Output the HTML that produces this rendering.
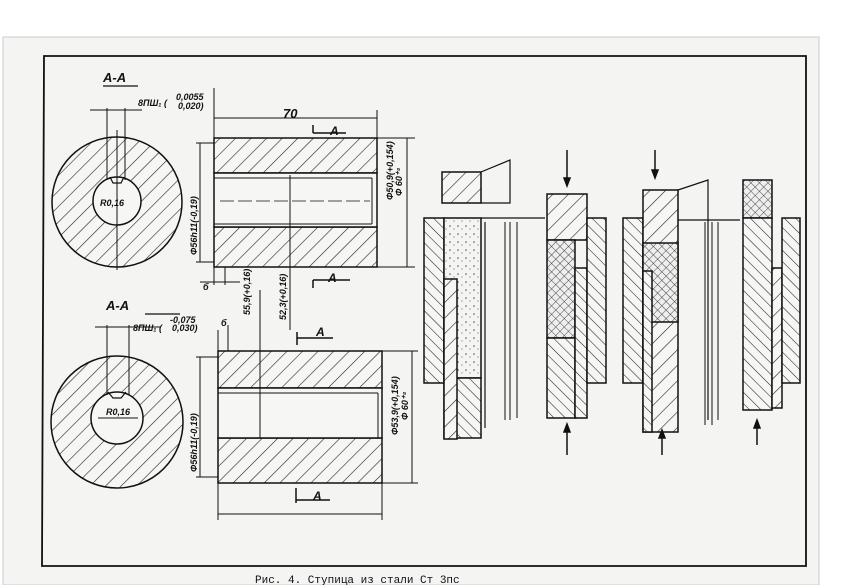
<!DOCTYPE html>
<html><head><meta charset="utf-8"><style>
html,body{margin:0;padding:0;background:#fff;}
svg{display:block;}
text{font-family:"Liberation Sans",sans-serif;font-style:italic;font-weight:bold;fill:#111;}
</style></head><body>
<svg width="848" height="585" viewBox="0 0 848 585" xmlns="http://www.w3.org/2000/svg">
<defs>
<pattern id="h" width="11" height="11" patternUnits="userSpaceOnUse" patternTransform="rotate(45)">
<rect width="11" height="11" fill="#f6f6f4"/><line x1="0" y1="0" x2="0" y2="11" stroke="#222" stroke-width="1.2"/></pattern>
<pattern id="h2" width="8" height="8" patternUnits="userSpaceOnUse" patternTransform="rotate(-45)">
<rect width="8" height="8" fill="#f6f6f4"/><line x1="0" y1="0" x2="0" y2="8" stroke="#222" stroke-width="1.1"/></pattern>
<pattern id="x" width="6" height="6" patternUnits="userSpaceOnUse" patternTransform="rotate(45)">
<rect width="6" height="6" fill="#eee"/><line x1="0" y1="0" x2="0" y2="6" stroke="#333" stroke-width="0.9"/><line x1="0" y1="0" x2="6" y2="0" stroke="#333" stroke-width="0.9"/></pattern>
<pattern id="d" width="8" height="8" patternUnits="userSpaceOnUse">
<rect width="8" height="8" fill="#f4f4f2"/><circle cx="2" cy="2" r="0.8" fill="#555"/><circle cx="6" cy="5" r="0.6" fill="#777"/></pattern>
</defs>
<rect x="3" y="37" width="816" height="548" fill="#f4f4f2" stroke="#ccc"/>
<g stroke="#111" fill="none" stroke-width="1.5">
<path d="M44 56 L806 56 L806 566 L42 566 Z" stroke-width="1.8"/>
<circle cx="117" cy="202" r="65" fill="url(#h)"/>
<circle cx="117" cy="201" r="24" fill="#f6f6f4"/>
<path d="M110 177 L113 183 L121 183 L124 177" stroke-width="1.2"/>
<line x1="107" y1="108" x2="107" y2="180" stroke-width="1"/><line x1="125" y1="108" x2="125" y2="180" stroke-width="1"/>
<line x1="90" y1="110" x2="142" y2="110" stroke-width="1"/>
<line x1="117" y1="130" x2="117" y2="270" stroke-width="1"/>
<rect x="214" y="138" width="163" height="35" fill="url(#h)"/>
<rect x="214" y="227" width="163" height="40" fill="url(#h)"/>
<rect x="214" y="173" width="163" height="54" fill="#f6f6f4"/>
<line x1="214" y1="178" x2="372" y2="178" stroke-width="1"/><line x1="214" y1="224" x2="372" y2="224" stroke-width="1"/>
<line x1="372" y1="178" x2="372" y2="224" stroke-width="1"/>
<line x1="220" y1="201" x2="370" y2="201" stroke-width="0.8" stroke-dasharray="14 4"/>
<line x1="214" y1="88" x2="214" y2="285" stroke-width="1"/><line x1="377" y1="110" x2="377" y2="138" stroke-width="1"/>
<line x1="214" y1="118" x2="377" y2="118" stroke-width="1"/>
<line x1="377" y1="138" x2="415" y2="138" stroke-width="1"/><line x1="377" y1="267" x2="415" y2="267" stroke-width="1"/>
<line x1="407" y1="138" x2="407" y2="267" stroke-width="1"/>
<line x1="200" y1="143" x2="200" y2="262" stroke-width="1"/>
<line x1="196" y1="143" x2="214" y2="143" stroke-width="1"/><line x1="196" y1="262" x2="214" y2="262" stroke-width="1"/>
<line x1="290" y1="175" x2="290" y2="330" stroke-width="1"/>
<path d="M313 125 L313 133 M313 133 L346 133 M313 280 L313 288 M313 280 L350 280" stroke-width="1.5"/>
<line x1="225" y1="267" x2="225" y2="285" stroke-width="1"/><line x1="200" y1="282" x2="240" y2="282" stroke-width="1"/>
<circle cx="117" cy="422" r="66" fill="url(#h)"/>
<circle cx="117" cy="418" r="26" fill="#f6f6f4"/>
<path d="M108 392 L113 398 L121 398 L126 392" stroke-width="1.2"/>
<line x1="107" y1="325" x2="107" y2="395" stroke-width="1"/><line x1="129" y1="325" x2="129" y2="395" stroke-width="1"/>
<line x1="95" y1="327" x2="160" y2="327" stroke-width="1"/>
<line x1="98" y1="418" x2="138" y2="418" stroke-width="1"/>
<rect x="218" y="351" width="164" height="37" fill="url(#h)"/>
<rect x="218" y="438" width="164" height="45" fill="url(#h)"/>
<rect x="218" y="388" width="164" height="50" fill="#f6f6f4"/>
<line x1="218" y1="393" x2="378" y2="393" stroke-width="1"/><line x1="378" y1="393" x2="378" y2="438" stroke-width="1"/>
<line x1="218" y1="330" x2="218" y2="520" stroke-width="1"/><line x1="382" y1="483" x2="382" y2="520" stroke-width="1"/>
<line x1="218" y1="514" x2="382" y2="514" stroke-width="1"/>
<line x1="382" y1="351" x2="418" y2="351" stroke-width="1"/><line x1="382" y1="483" x2="418" y2="483" stroke-width="1"/>
<line x1="412" y1="351" x2="412" y2="483" stroke-width="1"/>
<line x1="200" y1="357" x2="200" y2="477" stroke-width="1"/>
<line x1="196" y1="357" x2="218" y2="357" stroke-width="1"/><line x1="196" y1="477" x2="218" y2="477" stroke-width="1"/>
<line x1="228" y1="325" x2="228" y2="351" stroke-width="1"/>
<line x1="260" y1="290" x2="260" y2="438" stroke-width="1"/>
<path d="M297 332 L297 345 M297 338 L333 338 M296 488 L296 503 M296 500 L330 500" stroke-width="1.5"/>
<rect x="442" y="172" width="39" height="31" fill="url(#h)"/>
<path d="M481 172 L510 160 L510 203 L481 203" stroke-width="1.2"/>
<rect x="424" y="218" width="20" height="165" fill="url(#h2)"/>
<rect x="444" y="218" width="37" height="160" fill="url(#d)"/>
<rect x="444" y="378" width="37" height="60" fill="url(#h2)"/>
<rect x="444" y="279" width="13" height="160" fill="url(#h)"/>
<line x1="481" y1="218" x2="545" y2="218" stroke-width="1.2"/>
<line x1="485" y1="222" x2="485" y2="428" stroke-width="1.2"/><line x1="505" y1="222" x2="505" y2="420" stroke-width="1"/>
<line x1="510" y1="222" x2="510" y2="420" stroke-width="1"/><line x1="517" y1="222" x2="517" y2="418" stroke-width="1"/>
<rect x="547" y="194" width="40" height="46" fill="url(#h)"/>
<rect x="547" y="240" width="28" height="98" fill="url(#x)"/>
<rect x="547" y="338" width="28" height="80" fill="url(#h2)"/>
<rect x="575" y="268" width="12" height="150" fill="url(#h2)"/>
<rect x="587" y="218" width="19" height="165" fill="url(#h2)"/>
<rect x="623" y="218" width="20" height="165" fill="url(#h2)"/>
<rect x="643" y="190" width="35" height="242" fill="url(#h)"/>
<rect x="643" y="243" width="35" height="79" fill="url(#x)"/>
<rect x="643" y="271" width="9" height="161" fill="url(#h2)"/>
<path d="M678 190 L708 180 L708 420" stroke-width="1.2"/>
<line x1="678" y1="220" x2="740" y2="220" stroke-width="1.2"/>
<line x1="705" y1="222" x2="705" y2="425" stroke-width="1"/><line x1="712" y1="222" x2="712" y2="425" stroke-width="1"/><line x1="718" y1="222" x2="718" y2="420" stroke-width="1"/>
<rect x="743" y="180" width="29" height="38" fill="url(#x)"/>
<rect x="743" y="218" width="29" height="192" fill="url(#h2)"/>
<rect x="772" y="268" width="10" height="140" fill="url(#h)"/>
<rect x="782" y="218" width="18" height="165" fill="url(#h2)"/>
</g>
<g stroke="#111" stroke-width="1.5" fill="#111">
<line x1="567" y1="150" x2="567" y2="180"/><path d="M564 178 L567 186 L570 178 Z"/>
<line x1="567" y1="455" x2="567" y2="430"/><path d="M564 432 L567 424 L570 432 Z"/>
<line x1="655" y1="150" x2="655" y2="172"/><path d="M652 170 L655 178 L658 170 Z"/>
<line x1="662" y1="455" x2="662" y2="436"/><path d="M659 438 L662 430 L665 438 Z"/>
<line x1="757" y1="445" x2="757" y2="426"/><path d="M754 428 L757 420 L760 428 Z"/>
</g>
<g font-size="13">
<text x="103" y="82">A-A</text>
<text x="106" y="310">A-A</text>
<text x="283" y="118">70</text>
<text x="330" y="135" font-size="12">A</text>
<text x="328" y="282" font-size="12">A</text>
<text x="316" y="336" font-size="12">A</text>
<text x="313" y="500" font-size="12">A</text>
</g>
<line x1="103" y1="86" x2="138" y2="86" stroke="#111" stroke-width="1.2"/>
<line x1="145" y1="314" x2="180" y2="314" stroke="#111" stroke-width="1.2"/>
<g font-size="9">
<text x="138" y="106">8ПШ₁ (</text><text x="176" y="100">0,0055</text><text x="178" y="109">0,020)</text>
<text x="133" y="331">8ПШ₁ (</text><text x="170" y="323">-0,075</text><text x="172" y="331">0,030)</text>
<text x="203" y="290">б</text><text x="221" y="326">б</text>
<text x="100" y="206">R0,16</text><text x="106" y="415">R0,16</text>
<text transform="translate(197,255) rotate(-90)">Φ56h11(-0,19)</text>
<text transform="translate(197,472) rotate(-90)">Φ56h11(-0,19)</text>
<text transform="translate(393,200) rotate(-90)">Φ50,9(+0,154)</text>
<text transform="translate(402,196) rotate(-90)">Φ 60⁺⁴</text>
<text transform="translate(398,435) rotate(-90)">Φ53,9(+0,154)</text>
<text transform="translate(408,420) rotate(-90)">Φ 60⁺⁴</text>
<text transform="translate(250,315) rotate(-90)">55,9(+0,16)</text>
<text transform="translate(286,320) rotate(-90)">52,3(+0,16)</text>
</g>
<text x="255" y="583" font-size="11" style="font-style:normal;font-weight:normal;font-family:'Liberation Mono',monospace">Рис. 4. Ступица из стали Ст 3пс</text>
</svg>
</body></html>
